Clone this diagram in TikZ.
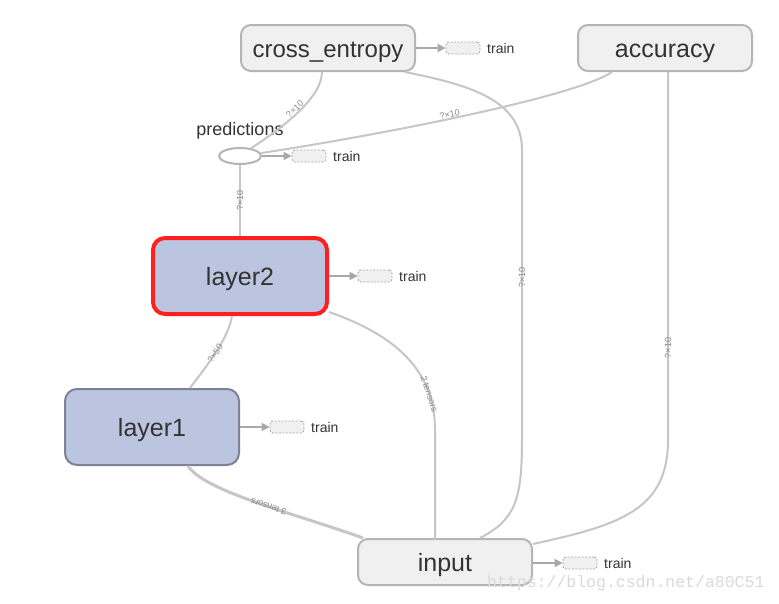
\documentclass[tikz,border=0pt]{standalone}
\usepackage{fontspec}
\setmainfont{Liberation Sans}
\newfontfamily\wmfont{Liberation Mono}
\usetikzlibrary{arrows.meta,shapes.geometric}
\definecolor{boxfill}{HTML}{F0F0F0}
\definecolor{boxdraw}{HTML}{B5B5B5}
\definecolor{layerfill}{HTML}{BCC5E0}
\definecolor{layerdraw}{HTML}{7D8299}
\definecolor{redline}{HTML}{FF1F1F}
\definecolor{edgecol}{HTML}{C6C6C6}
\definecolor{txt}{HTML}{333333}
\definecolor{lbl}{HTML}{888888}
\definecolor{arrowcol}{HTML}{A8A8A8}
\definecolor{wm}{HTML}{DADADA}
\tikzset{
  opnode/.style={draw=boxdraw, fill=boxfill, line width=2pt, rounded corners=10pt,
    minimum width=174pt, minimum height=46pt, inner sep=0pt,
    text height=20pt, text depth=2pt,
    font=\fontsize{25}{27}\selectfont, text=txt},
  layernode/.style={fill=layerfill, line width=2pt, rounded corners=12pt,
    minimum width=174pt, minimum height=76pt, inner sep=0pt,
    text height=20pt, text depth=2pt,
    font=\fontsize{25}{27}\selectfont, text=txt},
  trainbox/.style={draw=arrowcol, dash pattern=on 2pt off 1.5pt, fill=boxfill,
    rounded corners=3pt, minimum width=34pt, minimum height=12pt, inner sep=0pt, line width=0.8pt},
  trainlbl/.style={anchor=west, inner sep=0pt, font=\fontsize{14}{16}\selectfont, text=txt},
  smallarrow/.style={draw=arrowcol, line width=1.5pt, -{Triangle[length=8pt,width=8pt]}},
  edge/.style={draw=edgecol, line width=2pt},
  elbl/.style={font=\fontsize{9}{10}\selectfont, text=lbl, sloped, inner sep=0.5pt}
}
\begin{document}
\begin{tikzpicture}[x=1pt,y=-1pt]
\useasboundingbox[fill=white] (0,0) rectangle (779,603);

% nodes
\node[opnode, font=\fontsize{24}{26}\selectfont] (ce) at (328,48) {cross\_entropy};
\node[opnode] (acc) at (665,48) {accuracy};
\node[draw=boxdraw, fill=white, line width=2pt, ellipse, minimum width=42pt, minimum height=16pt, inner sep=0pt] (pred) at (240,156) {};
\node[inner sep=0pt, font=\fontsize{18}{20}\selectfont, text=txt] (predlbl) at (240,131) {predictions};
\node[layernode, draw=redline, line width=4pt] (l2) at (240,276) {layer2};
\node[layernode, draw=layerdraw] (l1) at (152,427) {layer1};
\node[opnode] (in) at (445,562) {input};

% edges
\draw[edge] (pred.35) .. controls (282,128) and (322,98) .. node[elbl, above] {?×10} ([xshift=-6pt]ce.south);
\draw[edge] (pred.8) .. controls (380,135) and (575,97) .. node[elbl, above, pos=0.46] {?×10} ([xshift=-53pt]acc.south);
\draw[edge] (l2.north) -- node[elbl] {?×10} (pred.south);
\draw[edge] ([xshift=38pt]l1.north) .. controls (205,368) and (228,340) .. node[elbl] {?×50} ([xshift=-8pt]l2.south);
\draw[edge] (435,540) -- (435,430) .. controls (435,370) and (395,335) .. node[elbl, pos=0.22] {2 tensors} ([yshift=4pt]l2.south east);
\draw[edge, line width=3pt] ([xshift=6pt]in.north west) .. controls (300,515) and (205,492) .. node[elbl, allow upside down, pos=0.45] {3 tensors} ([xshift=36pt]l1.south);
\draw[edge] ([xshift=35pt]in.north) .. controls (515,520) and (522,500) .. (522,440) -- node[elbl, pos=0.56] {?×10} (522,150) .. controls (522,100) and (470,85) .. ([xshift=77pt]ce.south);
\draw[edge] ([yshift=-6pt]in.north east) .. controls (620,525) and (668,510) .. (668,440) -- node[elbl, pos=0.25] {?×10} ([xshift=3pt]acc.south);

% train nodes
\node[trainbox] (t1) at (463,48) {};
\node[trainlbl] (t1l) at (487,48) {train};
\draw[smallarrow] (ce.east) -- (t1.west);
\node[trainbox] (t2) at (309,156) {};
\node[trainlbl] (t2l) at (333,156) {train};
\draw[smallarrow] (pred.east) -- (t2.west);
\node[trainbox] (t3) at (375,276) {};
\node[trainlbl] (t3l) at (399,276) {train};
\draw[smallarrow] (l2.east) -- (t3.west);
\node[trainbox] (t4) at (287,427) {};
\node[trainlbl] (t4l) at (311,427) {train};
\draw[smallarrow] (l1.east) -- (t4.west);
\node[trainbox] (t5) at (580,563) {};
\node[trainlbl] (t5l) at (604,563) {train};
\draw[smallarrow] ([yshift=-1pt]in.east) -- (t5.west);

% watermark
\node[inner sep=0pt, anchor=west, text=wm, font=\wmfont\fontsize{16.5}{18}\selectfont] (wmk) at (487,583) {https://blog.csdn.net/a80C51};
\end{tikzpicture}
\end{document}
